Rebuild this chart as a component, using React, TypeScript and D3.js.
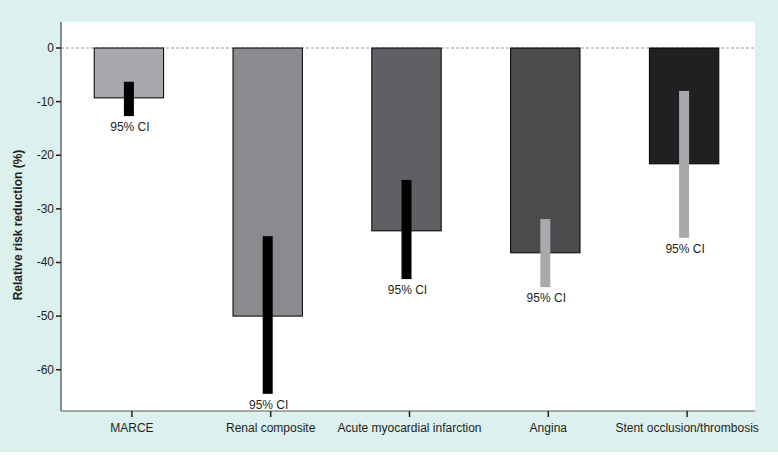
import * as d3 from "d3";
import React, { useEffect, useRef } from "react";

const W = 778;
const H = 455;

const categories = ["MARCE", "Renal composite", "Acute myocardial infarction", "Angina", "Stent occlusion/thrombosis"];
const values = [-9.3, -50, -34.1, -38.2, -21.6];
const ciHigh = [-6.3, -35.1, -24.6, -31.9, -8.0];
const ciLow = [-12.7, -64.5, -43.1, -44.6, -35.4];
const barColors = ["#a7a9ac", "#8a8b8e", "#5f6064", "#4a4b4d", "#1f2021"];
const ciColors = ["#000000", "#000000", "#000000", "#a7a9ac", "#a7a9ac"];
const yTicks = [0, -10, -20, -30, -40, -50, -60];

const plot = { left: 61, right: 755, top: 22, bottom: 411 };
const font = "'Liberation Sans', Arial, sans-serif";

export default function App() {
    const svgRef = useRef<SVGSVGElement | null>(null);

    useEffect(() => {
        if (!svgRef.current) return;
        const svg = d3.select(svgRef.current);
        svg.selectAll("*").remove();

        // background
        svg.append("rect").attr("width", W).attr("height", 452).attr("fill", "#dcf0ed");
        svg.append("rect")
            .attr("x", plot.left).attr("y", plot.top)
            .attr("width", plot.right - plot.left).attr("height", plot.bottom - plot.top)
            .attr("fill", "#ffffff");

        const y = d3.scaleLinear().domain([-67.7, 4.85]).range([plot.bottom, plot.top]);
        // bars sit a few px left of their category ticks in the original
        const x = d3.scaleBand().domain(categories).range([plot.left - 1.5, plot.right - 1.5]).paddingInner(0.5).paddingOuter(0.25);
        const tickX = (c: string) => x(c)! + x.bandwidth() / 2 + 3;

        // zero line
        svg.append("line")
            .attr("x1", plot.left).attr("x2", plot.right)
            .attr("y1", y(0)).attr("y2", y(0))
            .attr("stroke", "#808285").attr("stroke-width", 0.8)
            .attr("stroke-dasharray", "3,2");

        // bars
        svg.selectAll(".bar")
            .data(categories)
            .enter()
            .append("rect")
            .attr("x", (d) => x(d)!)
            .attr("y", y(0))
            .attr("width", x.bandwidth())
            .attr("height", (d, i) => y(values[i]) - y(0))
            .attr("fill", (d, i) => barColors[i])
            .attr("stroke", "#000")
            .attr("stroke-width", 1);

        // CI bars
        const ciW = 10;
        svg.selectAll(".ci")
            .data(categories)
            .enter()
            .append("rect")
            .attr("x", (d) => x(d)! + x.bandwidth() / 2 - ciW / 2)
            .attr("y", (d, i) => y(ciHigh[i]))
            .attr("width", ciW)
            .attr("height", (d, i) => y(ciLow[i]) - y(ciHigh[i]))
            .attr("fill", (d, i) => ciColors[i]);

        svg.selectAll(".cilabel")
            .data(categories)
            .enter()
            .append("text")
            .attr("x", (d) => x(d)! + x.bandwidth() / 2 + 1)
            .attr("y", (d, i) => y(ciLow[i]) + 15)
            .attr("text-anchor", "middle")
            .attr("font-family", font)
            .attr("font-size", "12px")
            .attr("fill", "#231f20")
            .text("95% CI");

        // y axis
        svg.append("line")
            .attr("x1", plot.left).attr("x2", plot.left)
            .attr("y1", plot.top).attr("y2", plot.bottom)
            .attr("stroke", "#231f20").attr("stroke-width", 1);
        yTicks.forEach((t) => {
            svg.append("line")
                .attr("x1", plot.left - 5).attr("x2", plot.left)
                .attr("y1", y(t)).attr("y2", y(t))
                .attr("stroke", "#231f20").attr("stroke-width", 1.5);
            svg.append("text")
                .attr("x", plot.left - 7)
                .attr("y", y(t) + 4)
                .attr("text-anchor", "end")
                .attr("font-family", font)
                .attr("font-size", "12px")
                .attr("fill", "#231f20")
                .text(String(t));
        });

        // x axis
        svg.append("line")
            .attr("x1", plot.left).attr("x2", plot.right)
            .attr("y1", plot.bottom).attr("y2", plot.bottom)
            .attr("stroke", "#58595b").attr("stroke-width", 1);
        categories.forEach((c) => {
            const cx = tickX(c);
            svg.append("line")
                .attr("x1", cx).attr("x2", cx)
                .attr("y1", plot.bottom).attr("y2", plot.bottom + 6)
                .attr("stroke", "#231f20").attr("stroke-width", 1.5);
            svg.append("text")
                .attr("x", cx)
                .attr("y", plot.bottom + 21)
                .attr("text-anchor", "middle")
                .attr("font-family", font)
                .attr("font-size", "12px")
                .attr("fill", "#231f20")
                .text(c);
        });

        // y title
        svg.append("text")
            .attr("transform", `translate(22,225) rotate(-90)`)
            .attr("text-anchor", "middle")
            .attr("font-family", font)
            .attr("font-size", "12px")
            .attr("font-weight", "bold")
            .attr("fill", "#231f20")
            .text("Relative risk reduction (%)");
    }, []);

    return <svg ref={svgRef} width={W} height={H} style={{ position: "absolute", left: 0, top: 0, display: "block" }} />;
}
